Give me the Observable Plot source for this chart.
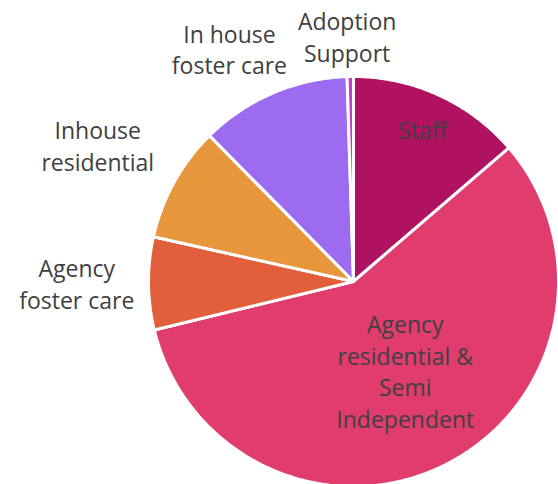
<!DOCTYPE html>
<html>
<head>
<meta charset="utf-8">
<script src="https://cdn.jsdelivr.net/npm/d3@7"></script>
<script src="https://cdn.jsdelivr.net/npm/@observablehq/plot@0.6"></script>
<style>
  html, body { margin: 0; padding: 0; background: #fff; }
  #chart svg { display: block; }
</style>
</head>
<body>
<div id="chart"></div>
<script>
// Data
const categories = ["Staff", "Agency residential & Semi Independent", "Agency foster care", "Inhouse residential", "In house foster care", "Adoption Support"];
const values = [13.7, 57.5, 7.3, 9.1, 11.9, 0.5];
const labelText = ["Staff", "Agency\nresidential &\nSemi\nIndependent", "Agency\nfoster care", "Inhouse\nresidential", "In house\nfoster care", "Adoption\nSupport"];
const colors = ["#B01262", "#E03C6E", "#E25F3C", "#E8963C", "#9C6BF0", "#C63CC8"];

// Layout (label radius as fraction of pie radius, angle offset in degrees)
const labelRadius = [0.81, 0.51, 1.35, 1.41, 1.28, 1.19];
const labelAngleOffset = [0, -2.5, -0.2, -1.2, -5, -0.6];

const arcs = d3.pie().sort(null).value(d => d)(values);

const slicePts = [];
arcs.forEach((a, i) => {
  slicePts.push({cat: categories[i], x: 0, y: 0});
  const n = Math.max(2, Math.ceil((a.endAngle - a.startAngle) / (Math.PI / 360)));
  for (let k = 0; k <= n; k++) {
    const t = a.startAngle + (a.endAngle - a.startAngle) * k / n;
    slicePts.push({cat: categories[i], x: Math.sin(t), y: Math.cos(t)});
  }
});

const labels = arcs.map((a, i) => {
  const m = (a.startAngle + a.endAngle) / 2 + labelAngleOffset[i] * Math.PI / 180;
  return {text: labelText[i], x: labelRadius[i] * Math.sin(m), y: labelRadius[i] * Math.cos(m)};
});

const R = 205, cx = 353, cy = 281, W = 558, H = 484;

const chart = Plot.plot({
  width: W,
  height: H,
  margin: 0,
  style: {background: "#fff"},
  x: {domain: [-cx / R, (W - cx) / R], axis: null},
  y: {domain: [-(H - cy) / R, cy / R], axis: null},
  color: {domain: categories, range: colors},
  marks: [
    Plot.line(slicePts, {x: "x", y: "y", z: "cat", fill: "cat", stroke: "white", strokeWidth: 3, strokeLinejoin: "miter", curve: "linear-closed"}),
    Plot.text(labels, {x: "x", y: "y", text: "text", fontSize: 23, lineHeight: 1.38, dy: -2, fill: "#404040", fontFamily: "'Open Sans', Lato, sans-serif", textAnchor: "middle"})
  ]
});
document.getElementById("chart").appendChild(chart);
</script>
</body>
</html>
